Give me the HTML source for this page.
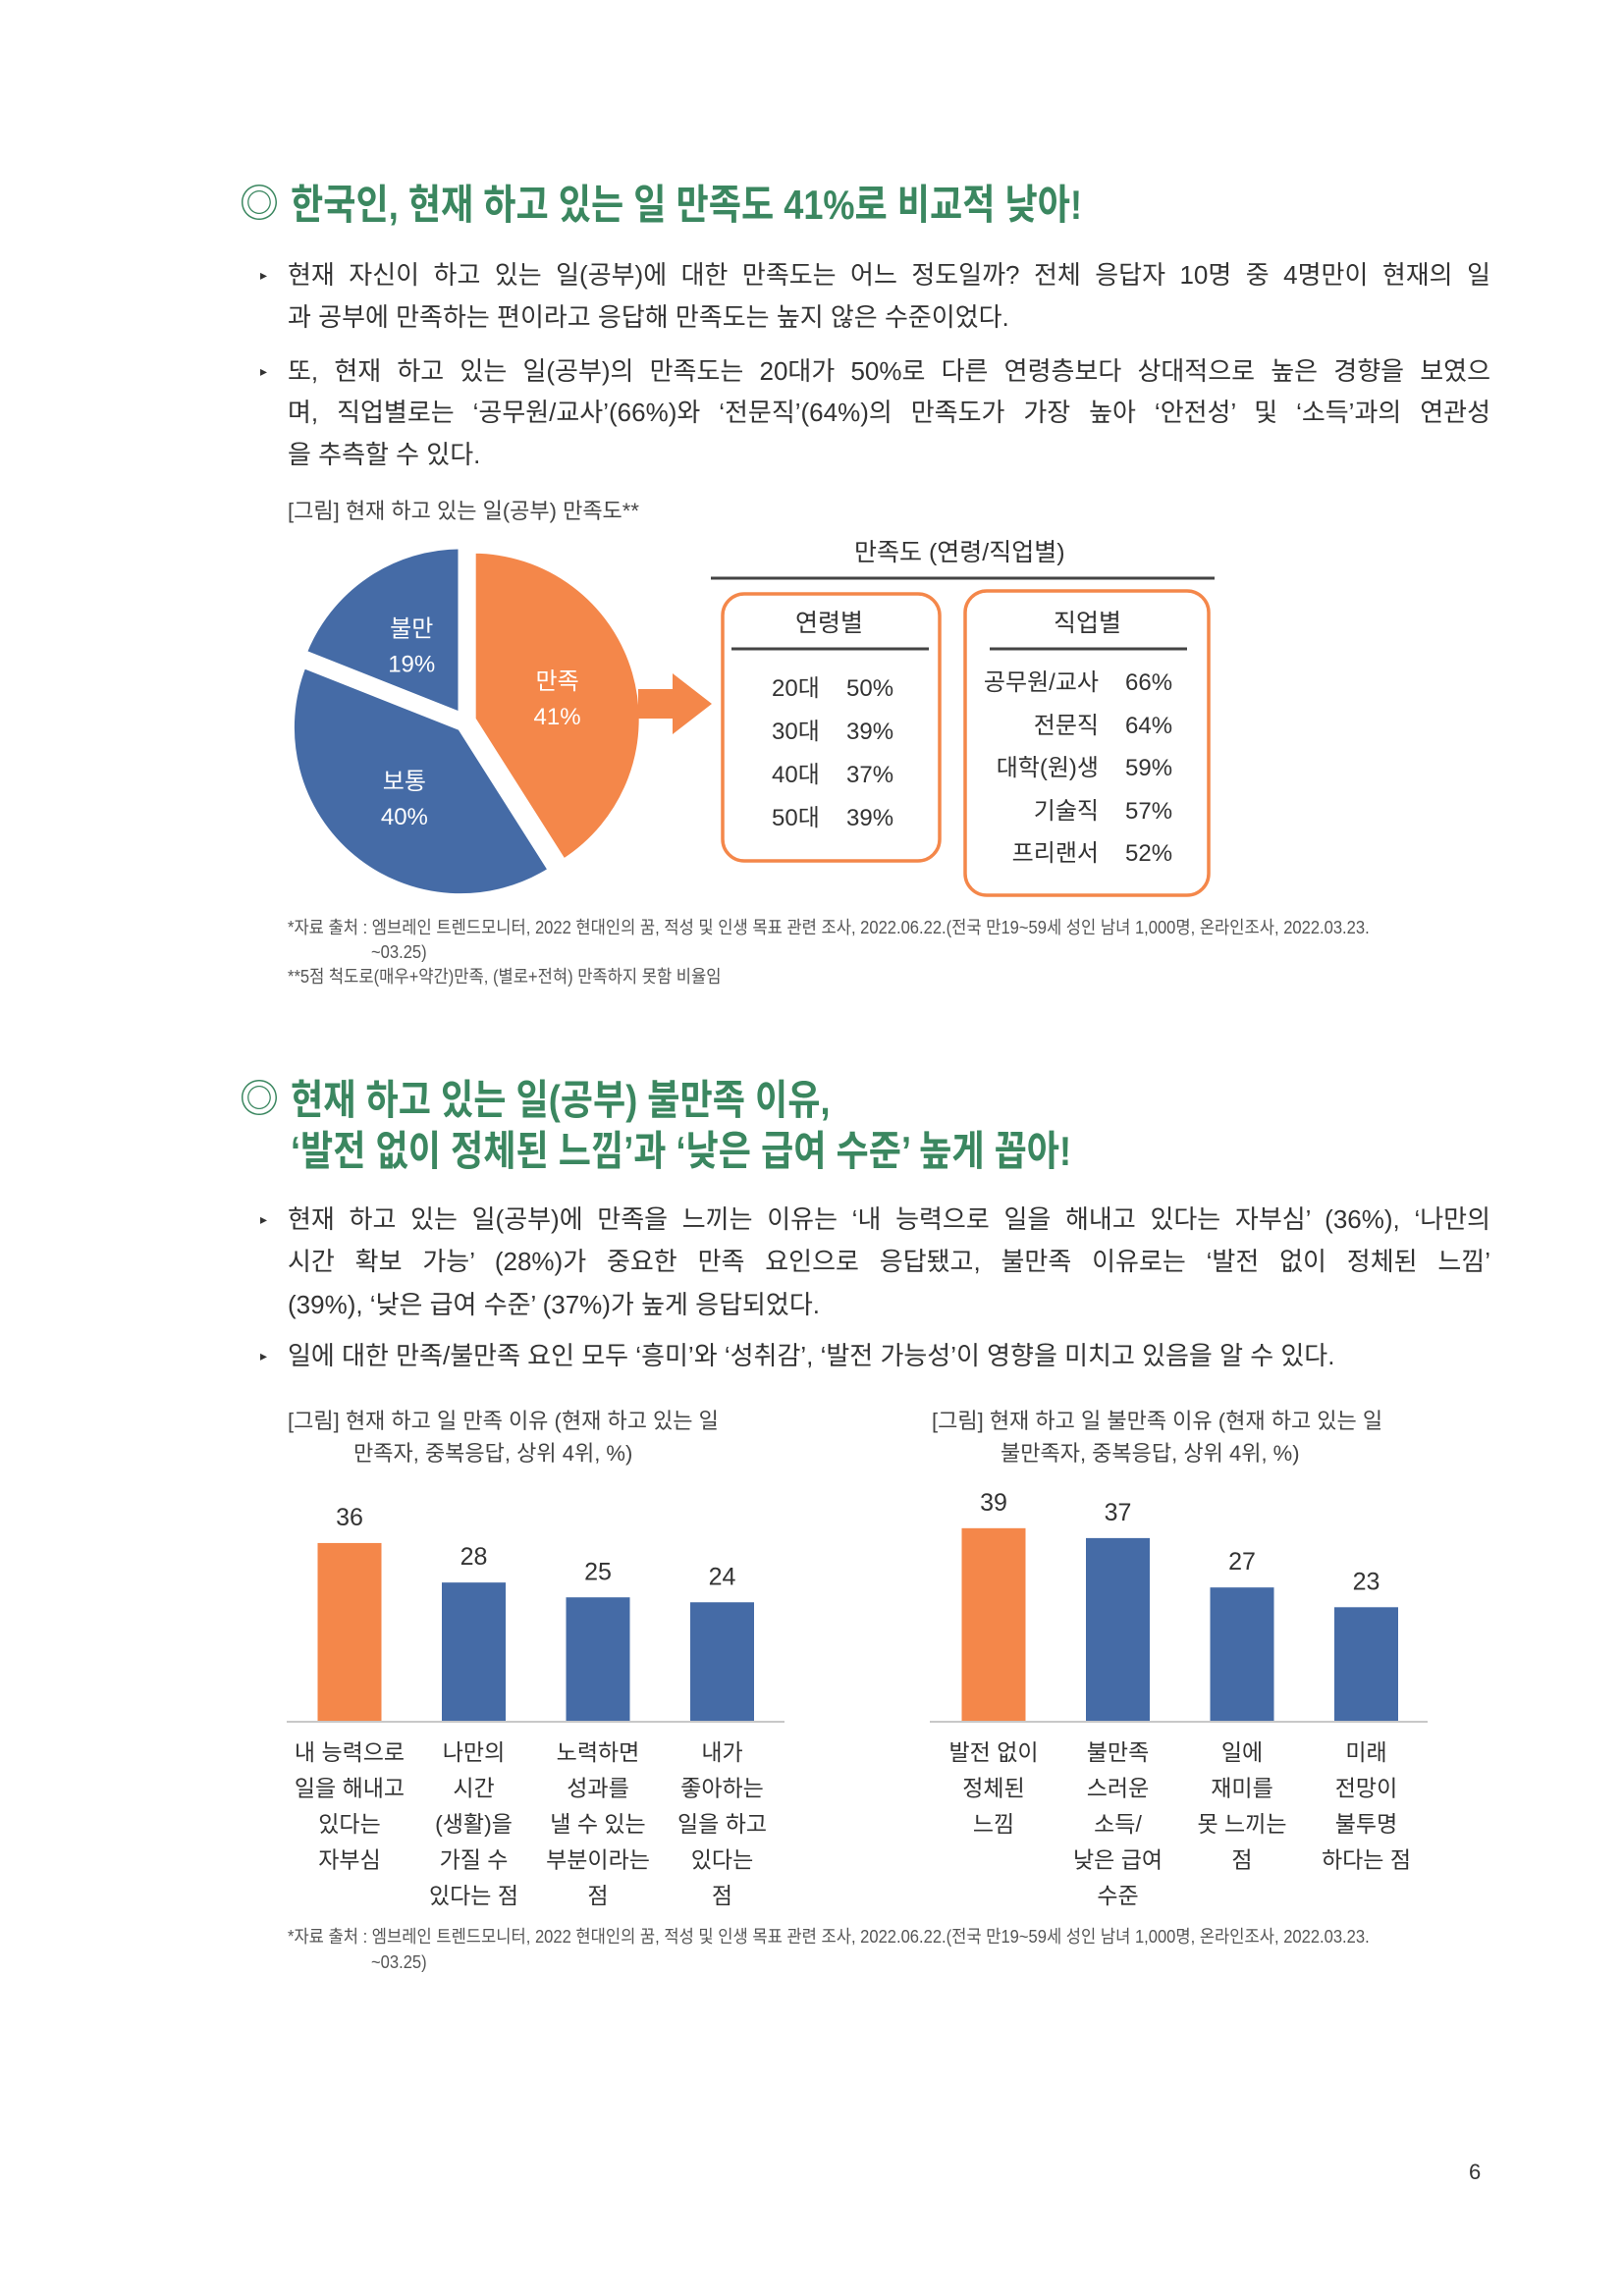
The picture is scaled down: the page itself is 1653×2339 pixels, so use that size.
<!DOCTYPE html>
<html><head><meta charset="utf-8">
<style>
body{margin:0;background:#fff;}
#page{position:relative;width:1653px;height:2339px;overflow:hidden;background:#fff;font-family:"Liberation Sans","Noto Sans CJK KR",sans-serif;color:#333;}
.t{position:absolute;white-space:nowrap;line-height:1;}
.ttl{position:absolute;white-space:nowrap;color:#3b8760;font-weight:bold;font-size:42px;line-height:1;transform:scaleX(0.86);transform-origin:left center;}
.ln{position:absolute;left:293px;width:1225px;font-size:26px;line-height:1;white-space:nowrap;text-align:justify;text-align-last:justify;color:#333;}
.ln.l{text-align-last:left;}
.bul{position:absolute;left:265px;font-size:14px;color:#333;}
.cap{font-size:22px;color:#444;}
.fn{font-size:18px;color:#555;transform:scaleX(0.92);transform-origin:left center;}
</style></head><body>
<div id="page">

<div class="t" style="left:244px;top:188px;font-size:40px;color:#3b8760;">◎</div>
<div class="ttl" style="left:296px;top:188px;">한국인, 현재 하고 있는 일 만족도 41%로 비교적 낮아!</div>

<div class="bul" style="top:272px;">▸</div>
<div class="ln" style="top:267px;">현재 자신이 하고 있는 일(공부)에 대한 만족도는 어느 정도일까? 전체 응답자 10명 중 4명만이 현재의 일</div>
<div class="ln l" style="top:310px;">과 공부에 만족하는 편이라고 응답해 만족도는 높지 않은 수준이었다.</div>
<div class="bul" style="top:370px;">▸</div>
<div class="ln" style="top:365px;">또, 현재 하고 있는 일(공부)의 만족도는 20대가 50%로 다른 연령층보다 상대적으로 높은 경향을 보였으</div>
<div class="ln" style="top:407px;">며, 직업별로는 ‘공무원/교사’(66%)와 ‘전문직’(64%)의 만족도가 가장 높아 ‘안전성’ 및 ‘소득’과의 연관성</div>
<div class="ln l" style="top:450px;">을 추측할 수 있다.</div>

<div class="t cap" style="left:293px;top:510px;">[그림] 현재 하고 있는 일(공부) 만족도**</div>

<svg id="charts" width="1653" height="2339" style="position:absolute;left:0;top:0;">
  <g id="pie"></g>
  <path d="M650,702 L685,702 L685,686 L725,717 L685,748 L685,732 L650,732 Z" fill="#f4874a"/>
  <line x1="724" y1="589" x2="1237" y2="589" stroke="#444" stroke-width="3"/>
  <rect x="736" y="605" width="221" height="272" rx="22" fill="none" stroke="#f4874a" stroke-width="3.5"/>
  <line x1="745" y1="661" x2="946" y2="661" stroke="#444" stroke-width="3"/>
  <rect x="983" y="602" width="248" height="310" rx="22" fill="none" stroke="#f4874a" stroke-width="3.5"/>
  <line x1="1008" y1="661" x2="1209" y2="661" stroke="#444" stroke-width="3"/>
  <g id="bars"></g>
</svg>

<div class="t" style="left:870px;top:551px;font-size:25px;color:#333;">만족도 (연령/직업별)</div>
<div class="t" style="left:810px;top:623px;font-size:25px;">연령별</div>
<div class="t" style="left:1073px;top:623px;font-size:25px;">직업별</div>
<div id="ageRows"></div>
<div id="jobRows"></div>

<div class="t fn" style="left:293px;top:936px;">*자료 출처 : 엠브레인 트렌드모니터, 2022 현대인의 꿈, 적성 및 인생 목표 관련 조사, 2022.06.22.(전국 만19~59세 성인 남녀 1,000명, 온라인조사, 2022.03.23.</div>
<div class="t fn" style="left:378px;top:961px;">~03.25)</div>
<div class="t fn" style="left:293px;top:986px;">**5점 척도로(매우+약간)만족, (별로+전혀) 만족하지 못함 비율임</div>

<div class="t" style="left:244px;top:1100px;font-size:40px;color:#3b8760;">◎</div>
<div class="ttl" style="left:296px;top:1100px;">현재 하고 있는 일(공부) 불만족 이유,</div>
<div class="ttl" style="left:296px;top:1152px;">‘발전 없이 정체된 느낌’과 ‘낮은 급여 수준’ 높게 꼽아!</div>

<div class="bul" style="top:1234px;">▸</div>
<div class="ln" style="top:1229px;">현재 하고 있는 일(공부)에 만족을 느끼는 이유는 ‘내 능력으로 일을 해내고 있다는 자부심’ (36%), ‘나만의</div>
<div class="ln" style="top:1272px;">시간 확보 가능’ (28%)가 중요한 만족 요인으로 응답됐고, 불만족 이유로는 ‘발전 없이 정체된 느낌’</div>
<div class="ln l" style="top:1316px;">(39%), ‘낮은 급여 수준’ (37%)가 높게 응답되었다.</div>
<div class="bul" style="top:1373px;">▸</div>
<div class="ln l" style="top:1368px;">일에 대한 만족/불만족 요인 모두 ‘흥미’와 ‘성취감’, ‘발전 가능성’이 영향을 미치고 있음을 알 수 있다.</div>

<div class="t cap" style="left:293px;top:1437px;">[그림] 현재 하고 일 만족 이유 (현재 하고 있는 일</div>
<div class="t cap" style="left:360px;top:1470px;">만족자, 중복응답, 상위 4위, %)</div>
<div class="t cap" style="left:949px;top:1437px;">[그림] 현재 하고 일 불만족 이유 (현재 하고 있는 일</div>
<div class="t cap" style="left:1019px;top:1470px;">불만족자, 중복응답, 상위 4위, %)</div>

<div class="t fn" style="left:293px;top:1964px;">*자료 출처 : 엠브레인 트렌드모니터, 2022 현대인의 꿈, 적성 및 인생 목표 관련 조사, 2022.06.22.(전국 만19~59세 성인 남녀 1,000명, 온라인조사, 2022.03.23.</div>
<div class="t fn" style="left:378px;top:1990px;">~03.25)</div>

<div class="t" style="left:1496px;top:2202px;font-size:22px;color:#333;">6</div>
</div>

<script>
const pieLabels = ["만족","보통","불만"];
const pieVals = [41,40,19];
const ageLabels = ["20대","30대","40대","50대"];
const ageVals = ["50%","39%","37%","39%"];
const jobLabels = ["공무원/교사","전문직","대학(원)생","기술직","프리랜서"];
const jobVals = ["66%","64%","59%","57%","52%"];
const leftCats = [["내 능력으로","일을 해내고","있다는","자부심"],["나만의","시간","(생활)을","가질 수","있다는 점"],["노력하면","성과를","낼 수 있는","부분이라는","점"],["내가","좋아하는","일을 하고","있다는","점"]];
const leftVals = [36,28,25,24];
const rightCats = [["발전 없이","정체된","느낌"],["불만족","스러운","소득/","낮은 급여","수준"],["일에","재미를","못 느끼는","점"],["미래","전망이","불투명","하다는 점"]];
const rightVals = [39,37,27,23];

const NS="http://www.w3.org/2000/svg";
const ORANGE="#f4874a", BLUE="#456ba6";
function mk(tag,attrs,parent){const e=document.createElementNS(NS,tag);for(const k in attrs)e.setAttribute(k,attrs[k]);parent.appendChild(e);return e;}

// Pie
(function(){
  const g=document.getElementById('pie');
  const cx=474, cy=735, r=172, off=8;
  const total=pieVals.reduce((a,b)=>a+b,0);
  let a0=0;
  pieVals.forEach((v,i)=>{
    const a1=a0+v/total*2*Math.PI;
    const mid=(a0+a1)/2;
    const ox=cx+off*Math.sin(mid), oy=cy-off*Math.cos(mid);
    const x0=ox+r*Math.sin(a0), y0=oy-r*Math.cos(a0);
    const x1=ox+r*Math.sin(a1), y1=oy-r*Math.cos(a1);
    const large=(a1-a0)>Math.PI?1:0;
    const p=mk('path',{d:`M${ox},${oy} L${x0},${y0} A${r},${r} 0 ${large} 1 ${x1},${y1} Z`,fill:i===0?ORANGE:BLUE,stroke:'#fff','stroke-width':6},g);
    
    
    const lr=r*0.52;
    const lx=ox+lr*Math.sin(mid), ly=oy-lr*Math.cos(mid);
    const t1=mk('text',{x:lx,y:ly-6,'text-anchor':'middle','font-size':24,fill:'#fff','font-family':'Liberation Sans, Noto Sans CJK KR, sans-serif'},g);
    t1.textContent=pieLabels[i];
    
    
    const t2=mk('text',{x:lx,y:ly+30,'text-anchor':'middle','font-size':24,fill:'#fff','font-family':'Liberation Sans, Noto Sans CJK KR, sans-serif'},g);
    t2.textContent=v+'%';
    
    
    a0=a1;
  });
})();

// Tables
(function(){
  const page=document.getElementById('page');
  ageLabels.forEach((l,i)=>{
    const y=690+i*44;
    const a=document.createElement('div');a.className='t';a.style.cssText=`left:786px;top:${y}px;font-size:24px;`;a.textContent=l;
    
    
    page.appendChild(a);
    const b=document.createElement('div');b.className='t';b.style.cssText=`left:862px;top:${y}px;font-size:24px;`;b.textContent=ageVals[i];
    
    
    page.appendChild(b);
  });
  jobLabels.forEach((l,i)=>{
    const y=684+i*43.6;
    const a=document.createElement('div');a.className='t';a.style.cssText=`right:${1653-1119}px;top:${y}px;font-size:24px;`;a.textContent=l;
    
    
    page.appendChild(a);
    const b=document.createElement('div');b.className='t';b.style.cssText=`left:1146px;top:${y}px;font-size:24px;`;b.textContent=jobVals[i];
    
    
    page.appendChild(b);
  });
})();

// Bars
(function(){
  const g=document.getElementById('bars');
  const base=1753, unit=5.03, bw=65;
  function chart(cats,vals,x0,x1,first,prefix){
    const ax=mk('line',{x1:x0,y1:base+1,x2:x1,y2:base+1,stroke:'#c8c8c8','stroke-width':2},g);
    
    
    vals.forEach((v,i)=>{
      const cx=first+i*126.5;
      const h=v*unit;
      const r=mk('rect',{x:cx-bw/2,y:base-h,width:bw,height:h,fill:i===0?ORANGE:BLUE},g);
      
      
      const t=mk('text',{x:cx,y:base-h-18,'text-anchor':'middle','font-size':25,fill:'#333','font-family':'Liberation Sans, sans-serif'},g);
      t.textContent=v;
      
      
      cats[i].forEach((line,j)=>{
        const c=mk('text',{x:cx,y:1793+j*36.5,'text-anchor':'middle','font-size':23,fill:'#333','font-family':'Liberation Sans, Noto Sans CJK KR, sans-serif'},g);
        c.textContent=line;
        
        
      });
    });
  }
  chart(leftCats,leftVals,292,799,356,'satisfaction');
  chart(rightCats,rightVals,947,1454,1012,'dissatisfaction');
})();
</script>
</body></html>
